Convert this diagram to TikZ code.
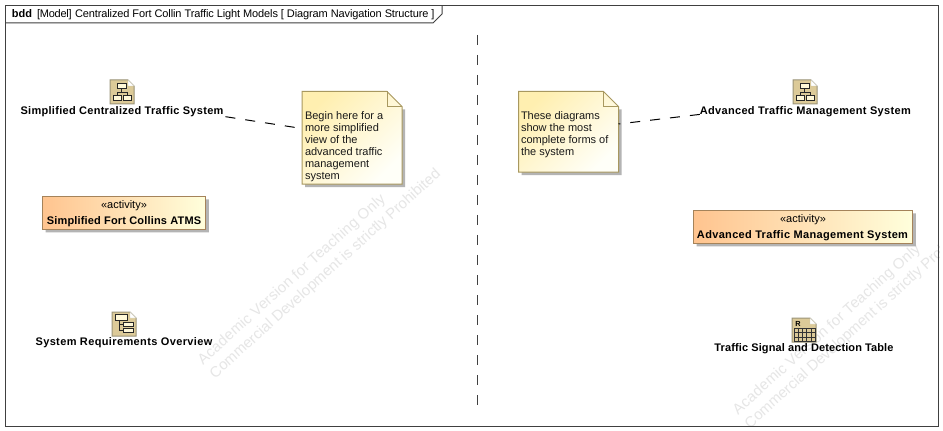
\documentclass[tikz,border=0pt]{standalone}
\usepackage{fontspec}
\setmainfont{Liberation Sans}
\usetikzlibrary{calc}
\definecolor{framecol}{HTML}{404040}
\definecolor{noteA}{HTML}{FFEFB0}
\definecolor{noteB}{HTML}{FFFFF8}
\definecolor{noteline}{HTML}{A8985F}
\definecolor{actA}{HTML}{FFC48F}
\definecolor{actB}{HTML}{FFFFDC}
\definecolor{actline}{HTML}{A5835A}
\definecolor{shadowcol}{HTML}{B4B4B4}
\definecolor{wmark}{HTML}{E6E6E6}
\definecolor{iconfill}{HTML}{DCCA98}
\definecolor{iconline}{HTML}{9A9478}
\definecolor{iconbox}{HTML}{FFF8D8}
\tikzset{
  x=0.75pt,y=-0.75pt,
  px/.style={inner sep=0pt,outer sep=0pt},
  label text/.style={px,anchor=base,font=\fontsize{8.25pt}{9pt}\selectfont\bfseries\addfontfeature{LetterSpace=#1}},
  label text/.default=3,
  stereo text/.style={px,anchor=base,font=\fontsize{8.25pt}{9pt}\selectfont},
  note text/.style={px,anchor=north west,align=left,font=\fontsize{8.25pt}{9pt}\selectfont,text=black!90},
  box area/.style={px,anchor=north west},
  connector/.style={black,line width=0.75pt,dash pattern=on 7.5pt off 7.5pt},
  separator/.style={framecol,line width=1pt,dash pattern=on 7.5pt off 7.5pt},
  wm/.style={px,anchor=base west,text=wmark,font=\fontsize{11.2pt}{12pt}\selectfont\addfontfeature{LetterSpace=#1},rotate=42},
  icon mini/.style={draw=black!85,line width=0.4pt,fill=iconbox},
  icon wire/.style={black!85,line width=0.4pt},
  icon grid/.style={black!80,line width=0.45pt},
}
% \docicon{x}{y}: 24 px document icon with folded corner
\newcommand{\docicon}[2]{%
  \fill[iconfill,draw=iconline,line width=0.75pt] (#1,#2) -- ++(18,0) -- ++(6,6) -- ++(0,18) -- ++(-24,0) -- cycle;
  \fill[white,draw=iconline!50,line width=0.3pt] (#1+18,#2) -- ++(6,6) -- ++(-6,0) -- cycle;
}
\newcommand{\notebg}[1]{%
  \fill[shadowcol] ($(#1.north east)+(3,18)$) -- ($(#1.south east)+(3,3)$) -- ($(#1.south west)+(3,3)$) -- ($(#1.south west)+(3,0)$) -- ($(#1.south east)+(0,0)$) -- ($(#1.north east)+(0,18)$) -- cycle;
  \shade[top color=noteA,bottom color=noteB,shading angle=45] (#1.north west) -- ($(#1.north east)+(-15,0)$) -- ($(#1.north east)+(0,15)$) -- (#1.south east) -- (#1.south west) -- cycle;
  \draw[noteline,line width=0.75pt,line join=miter] (#1.north west) -- ($(#1.north east)+(-15,0)$) -- ($(#1.north east)+(0,15)$) -- (#1.south east) -- (#1.south west) -- cycle;
  \draw[noteline,line width=0.75pt] ($(#1.north east)+(-15,0)$) -- ($(#1.north east)+(-15,15)$) -- ($(#1.north east)+(0,15)$);
}
\newcommand{\actbg}[1]{%
  \fill[shadowcol] ($(#1.north east)+(3,3)$) -- ($(#1.south east)+(3,3)$) -- ($(#1.south west)+(3,3)$) -- ($(#1.south west)+(3,0)$) -- (#1.south east) -- ($(#1.north east)+(0,3)$) -- cycle;
  \shade[left color=actA,right color=actB] (#1.north west) rectangle (#1.south east);
  \draw[actline,line width=0.75pt] (#1.north west) rectangle (#1.south east);
}
\begin{document}
\begin{tikzpicture}
\useasboundingbox (0,0) rectangle (943,431);
\fill[white] (0,0) rectangle (943,431);
% watermarks
\begin{scope}
\clip (5,5) rectangle (939,427);
\node[wm=1.5] (w1) at (203,365) {Academic Version for Teaching Only};
\node[wm=0] (w2) at (215,379) {Commercial Development is strictly Prohibited};
\node[wm=1.5] (w3) at (738,415) {Academic Version for Teaching Only};
\node[wm=0] (w4) at (750,429) {Commercial Development is strictly Prohibited};
\end{scope}
% frame
\draw[framecol,line width=0.75pt] (5.5,5.5) rectangle (938.5,426.5);
\draw[framecol,line width=0.75pt] (5.5,23) -- (433,23) -- (442,14) -- (442,5.5);
\node[px,anchor=base west,font=\fontsize{8.25pt}{9pt}\selectfont\bfseries] (kind) at (12,18) {bdd};
\node[px,anchor=base west,font=\fontsize{8.25pt}{9pt}\selectfont\addfontfeature{LetterSpace=-2}] (model) at (37,18) {[Model]};
\node[px,anchor=base west,font=\fontsize{8.25pt}{9pt}\selectfont\addfontfeature{LetterSpace=-1}] (title) at (75,18) {Centralized Fort Collin Traffic Light Models [ Diagram Navigation Structure ]};
% separator
\coordinate (sepA) at (477.3,35);
\coordinate (sepB) at (477.3,405);
\draw[separator] (sepA) -- (sepB);
% notes
\node[box area,minimum width=75pt,minimum height=69.5pt] (n1) at (302,91.5) {};
\notebg{n1}
\node[note text] (n1t) at (305,111.5) {Begin here for a\\more simplified\\view of the\\advanced traffic\\management\\system};
\node[box area,minimum width=75pt,minimum height=60.5pt] (n2) at (518.5,91.5) {};
\notebg{n2}
\node[note text] (n2t) at (521,111.5) {These diagrams\\show the most\\complete forms of\\the system};
% activities
\node[box area,minimum width=122.5pt,minimum height=24.75pt] (a1) at (42.5,196.5) {};
\actbg{a1}
\node[stereo text] (a1s) at (124,209) {«activity»};
\node[label text=1.6] (a1n) at (124,224.3) {Simplified Fort Collins ATMS};
\node[box area,minimum width=164.5pt,minimum height=24.75pt] (a2) at (693.5,210.5) {};
\actbg{a2}
\node[stereo text] (a2s) at (803,223) {«activity»};
\node[label text=3] (a2n) at (802.5,238.3) {Advanced Traffic Management System};
% icon 1: hierarchy
\docicon{110}{80}
\draw[icon wire] (121.5,88) -- (121.5,92) (117.5,92) -- (127.5,92) (117.5,92) -- (117.5,95) (127.5,92) -- (127.5,95);
\draw[icon mini] (117,83.5) rectangle (126,88);
\draw[icon mini] (113,95) rectangle (121.5,100.5);
\draw[icon mini] (123,95) rectangle (131.5,100.5);
\node[label text=2.7,inner xsep=1.5pt] (scs) at (122,114.4) {Simplified Centralized Traffic System};
% icon 2: hierarchy
\docicon{793}{80}
\draw[icon wire] (804.5,88) -- (804.5,92) (800.5,92) -- (810.5,92) (800.5,92) -- (800.5,95) (810.5,92) -- (810.5,95);
\draw[icon mini] (800,83.5) rectangle (809,88);
\draw[icon mini] (796,95) rectangle (804.5,100.5);
\draw[icon mini] (806,95) rectangle (814.5,100.5);
\node[label text=3] (atms) at (805.3,114.4) {Advanced Traffic Management System};
% icon 3: tree
\docicon{112}{312}
\draw[icon wire] (119,320) -- (119,330) -- (123,330) (119,324) -- (123,324);
\draw[icon mini] (115,314.5) rectangle (127.5,320);
\draw[icon mini] (123,322) rectangle (133,326);
\draw[icon mini] (123,328) rectangle (133,332);
\node[label text=3.4] (sro) at (124,345.3) {System Requirements Overview};
% icon 4: table
\docicon{792}{318}
\node[px,anchor=base,font=\fontsize{5.5pt}{6pt}\selectfont\bfseries] (rmark) at (798,326.5) {R};
\draw[icon grid] (794,328.5) rectangle (815,341);
\foreach \vx in {798.2,802.4,806.6,810.8} \draw[icon grid] (\vx,328.5) -- (\vx,341);
\foreach \hy in {332.7,336.9} \draw[icon grid] (794,\hy) -- (815,\hy);
\node[label text=1] (tsd) at (804,351.9) {Traffic Signal and Detection Table};
% connectors
\coordinate (n1c) at ($(n1.north west)+(0,37)$);
\coordinate (n2c) at ($(n2.north east)+(0,32.5)$);
\draw[connector] (scs.south east) -- (n1c);
\draw[connector] (atms.base west) -- (n2c);
\end{tikzpicture}
\end{document}
